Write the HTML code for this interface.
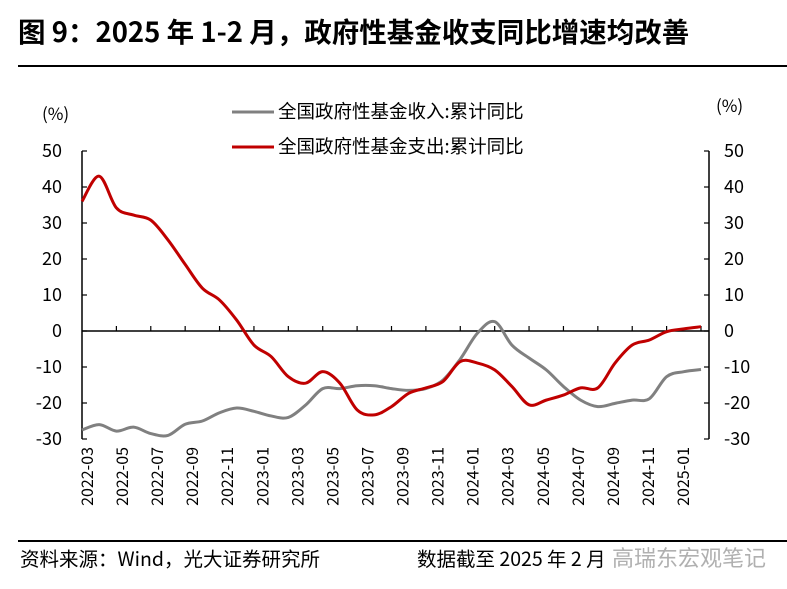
<!DOCTYPE html>
<html><head><meta charset="utf-8">
<style>
body{margin:0;background:#fff;}
svg{display:block;font-family:"Noto Sans CJK SC","Liberation Sans",sans-serif;}
</style></head>
<body>
<svg width="787" height="589" viewBox="0 0 787 589">
<text x="18" y="42" font-size="27.5" font-weight="bold" fill="#000">图 9：2025 年 1-2 月，政府性基金收支同比增速均改善</text>
<line x1="18" y1="66" x2="787" y2="66" stroke="#000" stroke-width="2"/>
<text x="42" y="120" font-size="17">(%)</text>
<text x="716" y="112" font-size="17">(%)</text>
<g>
<line x1="232" y1="112" x2="274" y2="112" stroke="#808080" stroke-width="3"/>
<text x="278" y="118" font-size="18.5">全国政府性基金收入:累计同比</text>
<line x1="232" y1="147" x2="274" y2="147" stroke="#c00000" stroke-width="3"/>
<text x="278" y="153" font-size="18.5">全国政府性基金支出:累计同比</text>
</g>
<g id="axes"></g>
<g id="series"></g>
<line x1="18" y1="541" x2="787" y2="541" stroke="#000" stroke-width="2"/>
<text x="20" y="566" font-size="19.5">资料来源：Wind，光大证券研究所</text>
<text x="417" y="566" font-size="19.5">数据截至 2025 年 2 月</text>
<text x="612" y="566" font-size="22" fill="#b0b0b0">高瑞东宏观笔记</text>
</svg>
<script>
const yTicks=[50,40,30,20,10,0,-10,-20,-30];
const xLabels=["2022-03","2022-05","2022-07","2022-09","2022-11","2023-01","2023-03","2023-05","2023-07","2023-09","2023-11","2024-01","2024-03","2024-05","2024-07","2024-09","2024-11","2025-01"];
const incomeValues=[-27.5,-26,-27.8,-26.7,-28.5,-29,-25.9,-25,-22.7,-21.4,-22.3,-23.6,-24,-20.6,-16,-16,-15.2,-15.2,-16,-16.5,-16,-13.6,-7.8,-0.6,2.6,-3.9,-7.5,-10.8,-15.4,-19.2,-21,-20.1,-19.2,-18.8,-12.7,-11.3,-10.7];
const expenseValues=[36,43,34.2,32.2,30.8,25.3,18.5,11.9,8.6,3,-3.9,-7.1,-12.7,-14.5,-11.3,-14.5,-21.9,-23.3,-21,-17.3,-15.8,-14,-8.5,-8.9,-10.8,-15.4,-20.5,-19.2,-17.8,-15.8,-15.8,-8.9,-3.9,-2.5,-0.2,0.6,1.2];
const NS="http://www.w3.org/2000/svg";
const L=82,R=709,X0=82,X1=701;
const y=v=>331-(v)*3.6;
const x=i=>X0+(X1-X0)*i/(incomeValues.length-1);
const labelX=k=>87+(683-87)*k/(xLabels.length-1);
const axes=document.getElementById('axes'),series=document.getElementById('series');
function mk(t,a,p){const e=document.createElementNS(NS,t);for(const k in a)e.setAttribute(k,a[k]);p.appendChild(e);return e;}
let e;
e=mk('line',{x1:L,y1:y(50),x2:L,y2:y(-30),stroke:'#000','stroke-width':1.5},axes);


e=mk('line',{x1:R,y1:y(50),x2:R,y2:y(-30),stroke:'#000','stroke-width':1.5},axes);


e=mk('line',{x1:L,y1:y(0),x2:R,y2:y(0),stroke:'#000','stroke-width':1.5},axes);


yTicks.forEach(v=>{
 mk('line',{x1:L,y1:y(v),x2:L+5,y2:y(v),stroke:'#000','stroke-width':1.2},axes);
 mk('line',{x1:R-5,y1:y(v),x2:R,y2:y(v),stroke:'#000','stroke-width':1.2},axes);
 let t=mk('text',{x:62,y:y(v)+6,'font-size':18,'text-anchor':'end'},axes);t.textContent=v;
 
 
 t=mk('text',{x:724,y:y(v)+6,'font-size':18},axes);t.textContent=v;
 
 
});
for(let i=2;i<incomeValues.length;i+=2){mk('line',{x1:x(i),y1:y(0),x2:x(i),y2:y(0)-5,stroke:'#000','stroke-width':1.2},axes);}
xLabels.forEach((s,k)=>{
 const lx=labelX(k)+6;
 const t=mk('text',{x:lx,y:447,'font-size':16,'text-anchor':'end',transform:`rotate(-90 ${lx} 447)`},axes);
 t.textContent=s;
 
 
});
function path(vals){
 const p=vals.map((v,i)=>[x(i),y(v)]);
 let d=`M${p[0][0]},${p[0][1]}`;
 for(let i=0;i<p.length-1;i++){
  const p0=p[i-1]||p[i],p1=p[i],p2=p[i+1],p3=p[i+2]||p2;
  d+=` C${p1[0]+(p2[0]-p0[0])/6},${p1[1]+(p2[1]-p0[1])/6} ${p2[0]-(p3[0]-p1[0])/6},${p2[1]-(p3[1]-p1[1])/6} ${p2[0]},${p2[1]}`;
 }
 return d;
}
e=mk('path',{d:path(incomeValues),fill:'none',stroke:'#808080','stroke-width':3},series);


e=mk('path',{d:path(expenseValues),fill:'none',stroke:'#c00000','stroke-width':3},series);


</script>
</body></html>
